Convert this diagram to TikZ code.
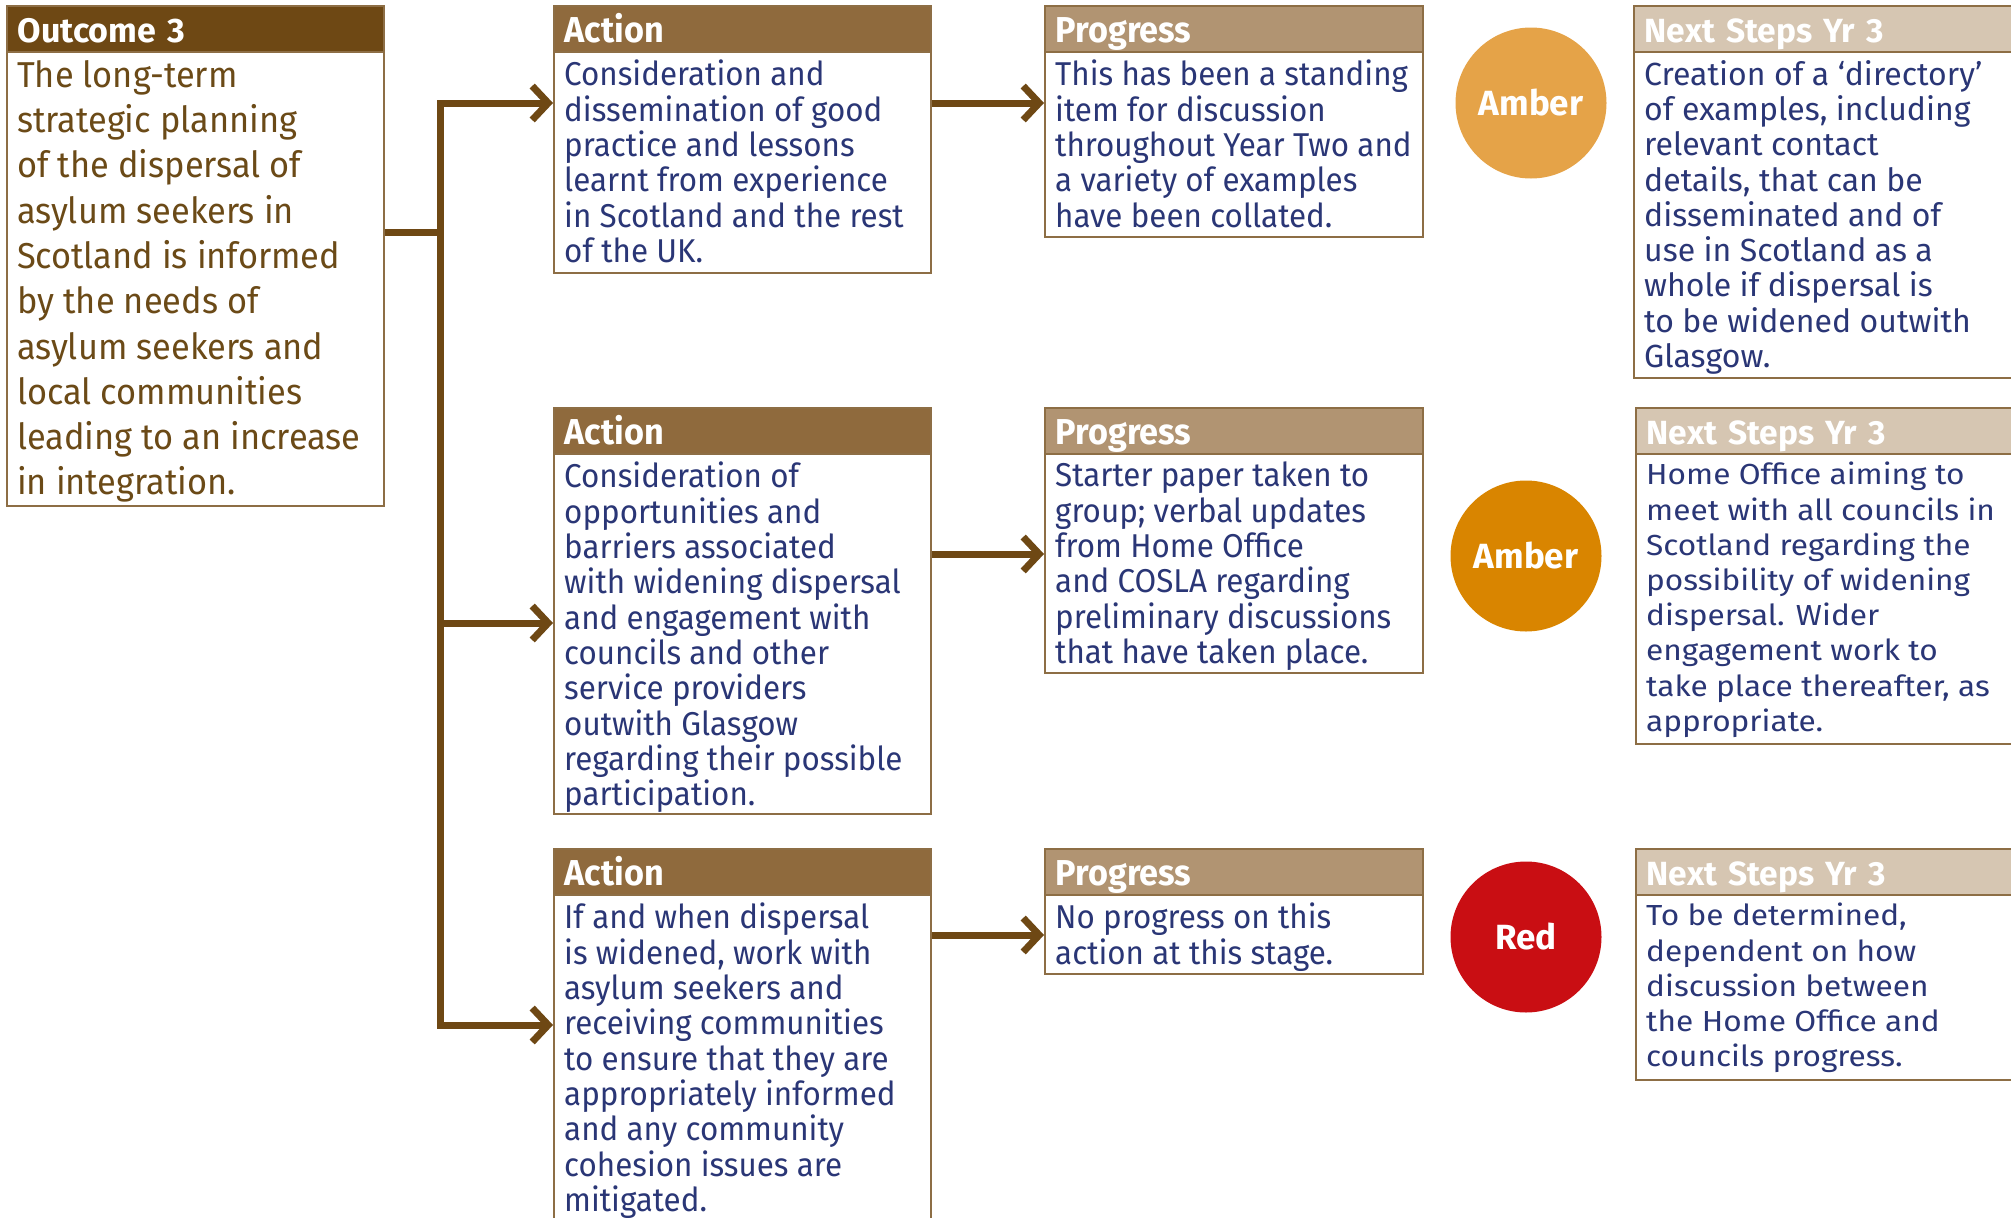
\documentclass[tikz,border=0pt]{standalone}
\usepackage{fontspec}
\setmainfont{Fira Sans}
\newfontfamily\fcond[FakeStretch=0.95]{Fira Sans}
\newfontfamily\fout[FakeStretch=0.955]{Fira Sans}
\newfontfamily\fnorm{Fira Sans}
\newfontfamily\fext[FakeStretch=1.09]{Fira Sans}
\usetikzlibrary{arrows.meta,calc}
\definecolor{outhdr}{HTML}{6E4814}
\definecolor{acthdr}{HTML}{8F6A3D}
\definecolor{proghdr}{HTML}{B19472}
\definecolor{nexthdr}{HTML}{D6C6B2}
\definecolor{bordc}{HTML}{8D6E45}
\definecolor{arrc}{HTML}{6E4814}
\definecolor{brownt}{HTML}{6B4A17}
\definecolor{bluet}{HTML}{2A3676}
\definecolor{amberA}{HTML}{E5A348}
\definecolor{amberB}{HTML}{D98500}
\definecolor{redC}{HTML}{C90E13}
\newcommand\ofont{\fout\fontsize{36}{45.3}\selectfont}
\newcommand\cfont{\fcond\fontsize{33}{35.3}\selectfont}
\newcommand\nfont{\fnorm\fontsize{32}{35.3}\selectfont}
\newcommand\efont{\fext\fontsize{29}{35.2}\selectfont}
\newcommand\hfontn{\fnorm\bfseries\fontsize{34}{36}\selectfont}
\newcommand\hfontx{\fnorm\bfseries\fontsize{33.5}{36}\selectfont}
\newcommand\hfontc{\fcond\bfseries\fontsize{36}{36}\selectfont}
\newcommand\cirfont{\fnorm\bfseries\fontsize{35}{36}\selectfont}
\begin{document}
\begin{tikzpicture}[x=1pt,y=-1pt,
  box/.style={draw=bordc, line width=1.5pt, fill=white, anchor=north west, inner sep=0pt},
  hdr/.style n args={3}{draw=bordc, line width=1.5pt, fill=#1, anchor=north west,
     text width=#3pt, inner xsep=11pt, inner ysep=0pt, minimum height=46pt, align=left, text=white,
     text height=28pt, text depth=0pt},
  txt/.style={anchor=north west, inner xsep=11pt, inner ysep=9pt, align=left},
  conn/.style={draw=arrc, line width=7pt, line join=miter},
  tip/.style={-{Straight Barb[length=16pt,width=34pt]}},
  light/.style={circle, minimum size=151pt, inner sep=0pt, text=white, font=\cirfont}]
\useasboundingbox (0,0) rectangle (2011,1218);
% ---------- Outcome ----------
\node[box, minimum width=377pt, minimum height=454pt] (ob) at (6,51) {};
\node[hdr={outhdr}{377}{355}, font=\hfontn] (oh) at (6,5) {Outcome 3};
\node[txt, text=brownt, font=\ofont] (obt) at (ob.north west) {The long-term\\strategic planning\\of the dispersal of\\asylum seekers in\\Scotland is informed\\by the needs of\\asylum seekers and\\local communities\\leading to an increase\\in integration.};
% ---------- Row 1 ----------
\node[box, minimum width=377pt, minimum height=221pt] (a1) at (553,51) {};
\node[hdr={acthdr}{377}{355}, font=\hfontc] (a1h) at (553,5) {Action};
\node[txt, text=bluet, font=\cfont] (a1t) at (a1.north west) {Consideration and\\dissemination of good\\practice and lessons\\learnt from experience\\in Scotland and the rest\\of the UK.};
\node[box, minimum width=378pt, minimum height=185pt] (p1) at (1044,51) {};
\node[hdr={proghdr}{378}{356}, font=\hfontc] (p1h) at (1044,5) {Progress};
\node[txt, text=bluet, font=\cfont] (p1t) at (p1.north west) {This has been a standing\\item for discussion\\throughout Year Two and\\a variety of examples\\have been collated.};
\node[light, fill=amberA] (c1) at (1531,103) {Amber};
\node[box, minimum width=381pt, minimum height=326pt] (n1) at (1633,51) {};
\node[hdr={nexthdr}{381}{359}, font=\hfontx] (n1h) at (1633,5) {Next Steps Yr 3};
\node[txt, text=bluet, font=\nfont] (n1t) at (n1.north west) {Creation of a ‘directory’\\of examples, including\\relevant contact\\details, that can be\\disseminated and of\\use in Scotland as a\\whole if dispersal is\\to be widened outwith\\Glasgow.};
% ---------- Row 2 ----------
\node[box, minimum width=377pt, minimum height=360pt] (a2) at (553,453) {};
\node[hdr={acthdr}{377}{355}, font=\hfontc] (a2h) at (553,407) {Action};
\node[txt, text=bluet, font=\cfont] (a2t) at (a2.north west) {Consideration of\\opportunities and\\barriers associated\\with widening dispersal\\and engagement with\\councils and other\\service providers\\outwith Glasgow\\regarding their possible\\participation.};
\node[box, minimum width=378pt, minimum height=219pt] (p2) at (1044,453) {};
\node[hdr={proghdr}{378}{356}, font=\hfontc] (p2h) at (1044,407) {Progress};
\node[txt, text=bluet, font=\cfont] (p2t) at (p2.north west) {Starter paper taken to\\group; verbal updates\\from Home Office\\and COSLA regarding\\preliminary discussions\\that have taken place.};
\node[light, fill=amberB] (c2) at (1526,556) {Amber};
\node[box, minimum width=379pt, minimum height=290pt] (n2) at (1635,453) {};
\node[hdr={nexthdr}{379}{357}, font=\hfontx] (n2h) at (1635,407) {Next Steps Yr 3};
\node[txt, text=bluet, font=\efont] (n2t) at (n2.north west) {Home Office aiming to\\meet with all councils in\\Scotland regarding the\\possibility of widening\\dispersal. Wider\\engagement work to\\take place thereafter, as\\appropriate.};
% ---------- Row 3 ----------
\node[box, minimum width=377pt, minimum height=340pt] (a3) at (553,894) {};
\node[hdr={acthdr}{377}{355}, font=\hfontc] (a3h) at (553,848) {Action};
\node[txt, text=bluet, font=\cfont] (a3t) at (a3.north west) {If and when dispersal\\is widened, work with\\asylum seekers and\\receiving communities\\to ensure that they are\\appropriately informed\\and any community\\cohesion issues are\\mitigated.};
\node[box, minimum width=378pt, minimum height=79pt] (p3) at (1044,894) {};
\node[hdr={proghdr}{378}{356}, font=\hfontc] (p3h) at (1044,848) {Progress};
\node[txt, text=bluet, font=\cfont] (p3t) at (p3.north west) {No progress on this\\action at this stage.};
\node[light, fill=redC] (c3) at (1526,937) {Red};
\node[box, minimum width=379pt, minimum height=185pt] (n3) at (1635,894) {};
\node[hdr={nexthdr}{379}{357}, font=\hfontx] (n3h) at (1635,848) {Next Steps Yr 3};
\node[txt, text=bluet, font=\efont] (n3t) at (n3.north west) {To be determined,\\dependent on how\\discussion between\\the Home Office and\\councils progress.};
% ---------- Connectors ----------
\coordinate (jo) at (440,232);
\coordinate (j1) at (440,103);
\coordinate (j2) at (440,623);
\coordinate (j3) at (440,1025);
\draw[conn] (ob.east |- jo) -- (jo);
\draw[conn, {Straight Barb[length=16pt,width=34pt]}-{Straight Barb[length=16pt,width=34pt]}] (a1.west |- j1) -- (j1) -- (j3) -- (a3.west |- j3);
\draw[conn, tip] (j2) -- (a2.west |- j2);
\draw[conn, tip] (a1.east |- j1) -- (p1.west |- j1);
\draw[conn, tip] (a2.east |- 0,554) -- (p2.west |- 0,554);
\draw[conn, tip] (a3.east |- 0,935) -- (p3.west |- 0,935);
\end{tikzpicture}
\end{document}
